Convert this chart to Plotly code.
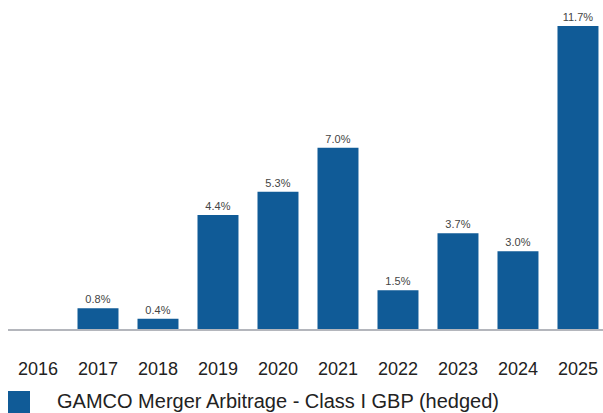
import plotly.graph_objects as go

years = ["2016", "2017", "2018", "2019", "2020", "2021", "2022", "2023", "2024", "2025"]
returns = [None, 0.8, 0.4, 4.4, 5.3, 7.0, 1.5, 3.7, 3.0, 11.7]
labels = ["" if v is None else f"{v:.1f}%" for v in returns]
series_name = "GAMCO Merger Arbitrage - Class I GBP (hedged)"
bar_color = "#105B97"

W, H = 603, 413
fig = go.Figure()
fig.add_trace(go.Bar(
    x=list(range(len(years))), y=returns, text=labels,
    textposition="outside", cliponaxis=False,
    textfont=dict(family="Liberation Sans", size=11, color="#444444"),
    marker=dict(color=bar_color, line=dict(width=0)),
    name=series_name, showlegend=False, hoverinfo="skip",
))

fig.update_layout(
    width=W, height=H,
    margin=dict(l=8, r=0, t=0, b=84),
    plot_bgcolor="white", paper_bgcolor="white",
    bargap=0.317,
    font=dict(family="Liberation Sans", color="#222222"),
    xaxis=dict(
        tickmode="array", tickvals=list(range(len(years))), ticktext=years,
        range=[-0.5, 9.417], showgrid=False, zeroline=False,
        showline=True, linecolor="#B4B6BC", linewidth=2,
        ticks="outside", ticklen=22, tickcolor="rgba(0,0,0,0)",
        tickfont=dict(size=18, color="#222222"),
    ),
    yaxis=dict(range=[0, 12.70], visible=False, showgrid=False, zeroline=False),
)

# legend drawn manually
fig.add_shape(type="rect", xref="paper", yref="paper",
              x0=0 / (W - 8), x1=22 / (W - 8),
              y0=-(391 - 329) / 329, y1=-(413 - 329) / 329,
              fillcolor=bar_color, line=dict(width=0))
fig.add_annotation(xref="paper", yref="paper", x=47 / (W - 8), y=-(401 - 329) / 329,
                   xanchor="left", yanchor="middle", showarrow=False,
                   text=series_name, font=dict(size=20, color="#222222"))

fig.write_html("out.html", config={"displayModeBar": False},
               post_script="document.body.style.margin='0';")
